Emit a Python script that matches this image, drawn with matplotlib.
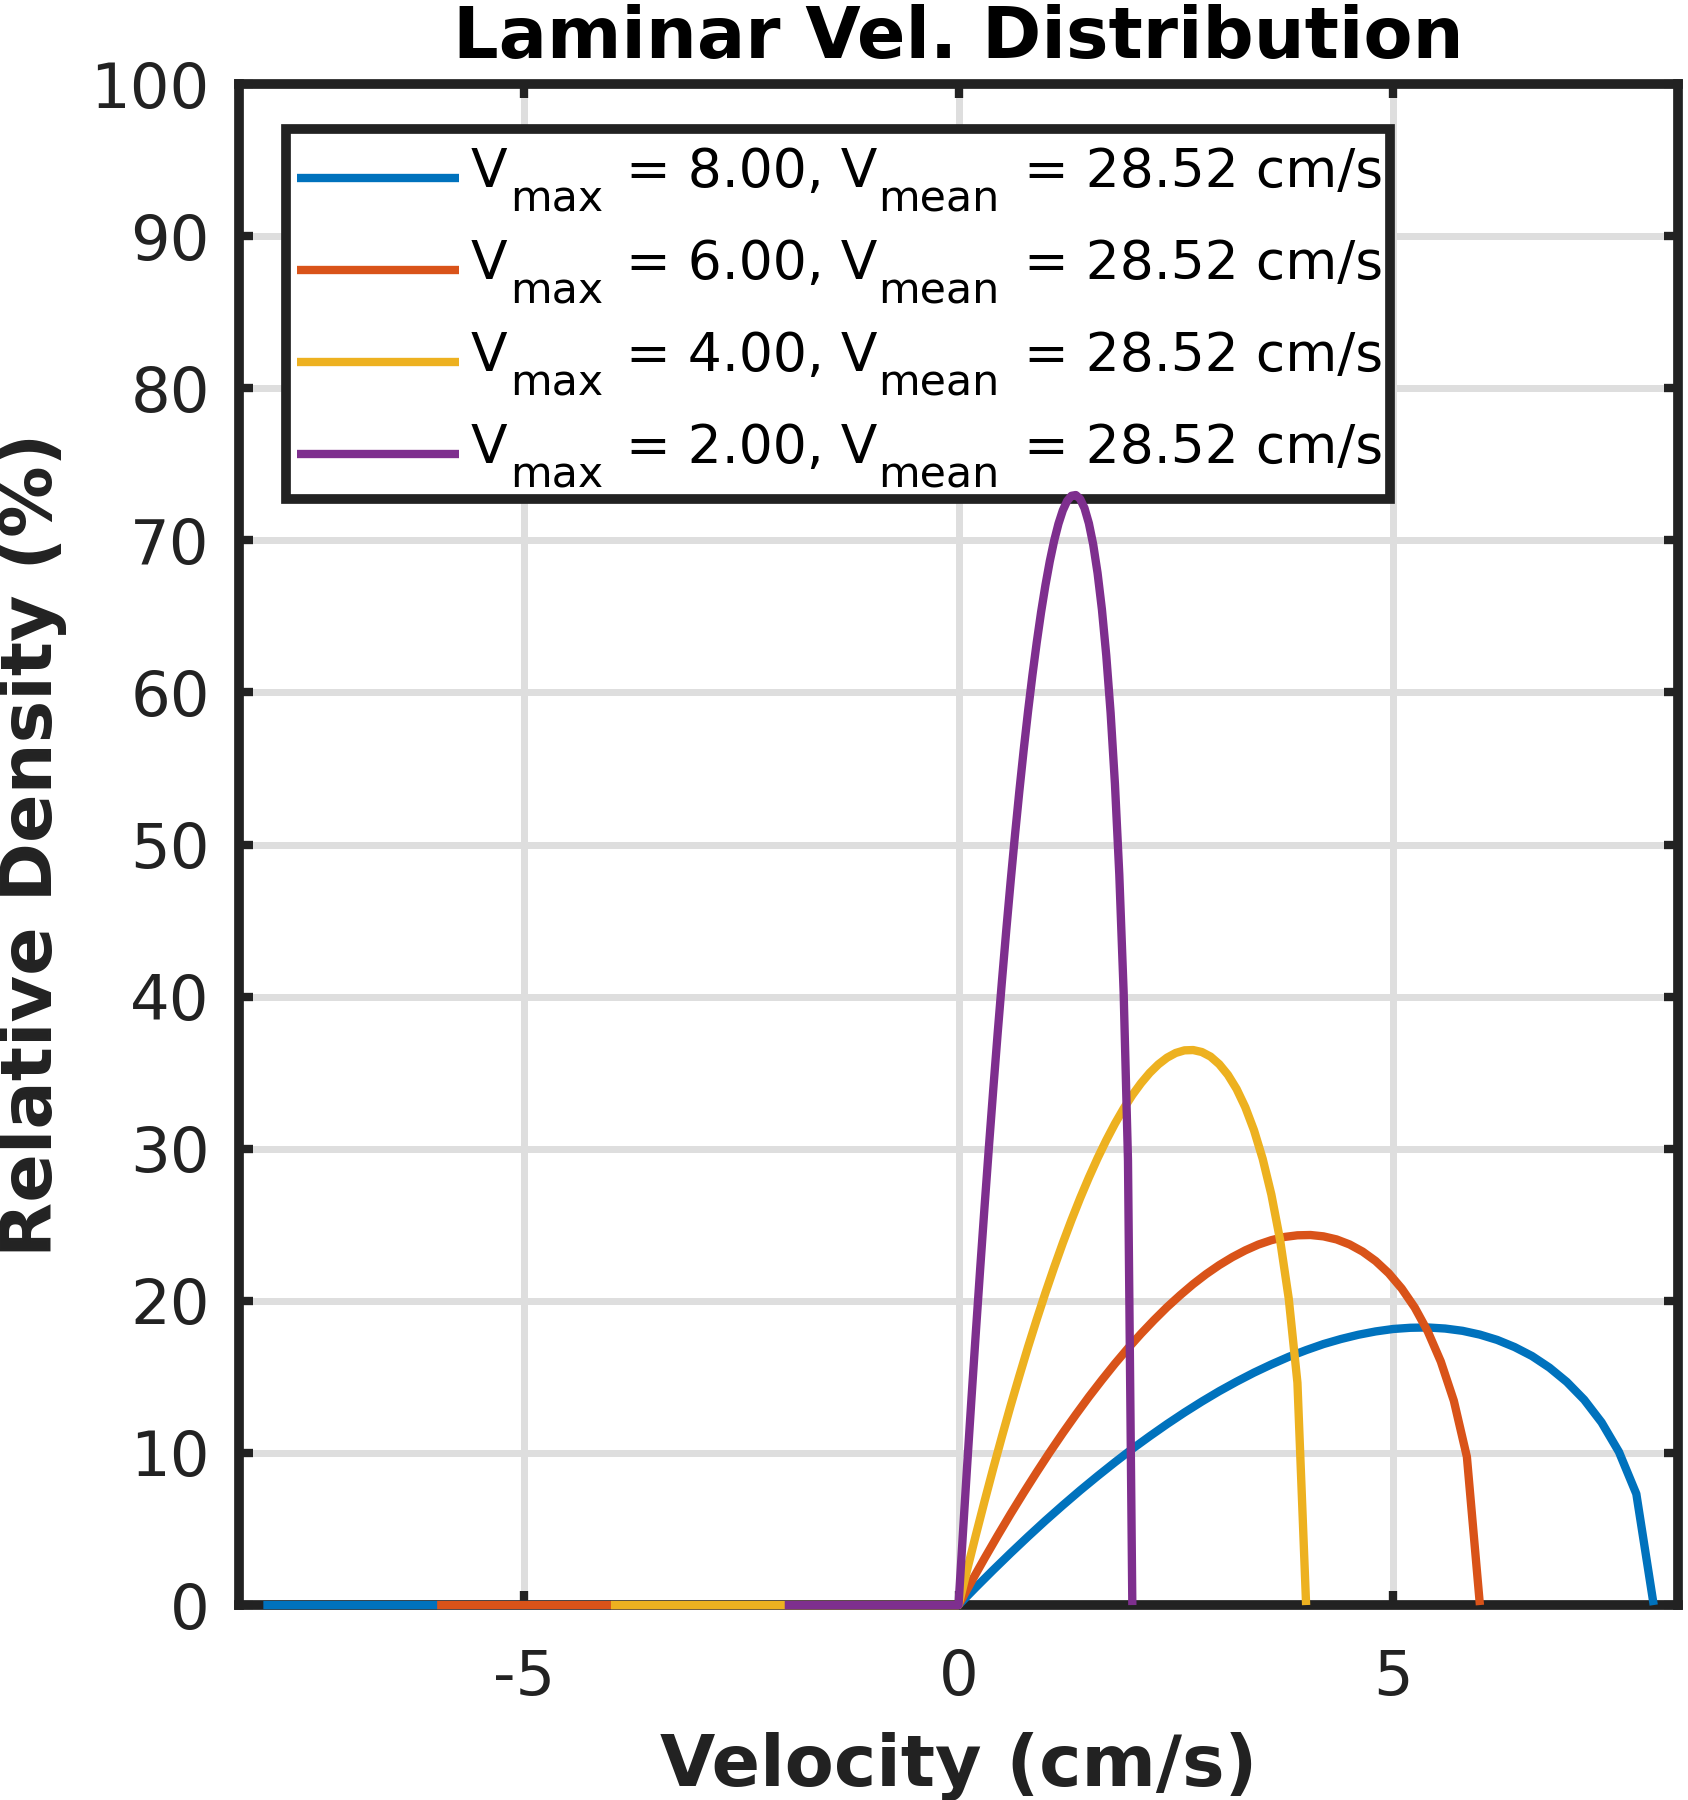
import matplotlib
matplotlib.use("Agg")
import matplotlib.pyplot as plt
from matplotlib.lines import Line2D
from matplotlib.patches import Rectangle

plt.rcParams['font.family'] = ['DejaVu Sans']
plt.rcParams['axes.unicode_minus'] = False

# ---- data ----
vmax_values = [8.00, 6.00, 4.00, 2.00]
vmean_values = [28.52, 28.52, 28.52, 28.52]

blue_v = [-8.0, 0.0, 0.2, 0.4, 0.6, 0.8, 1.0, 1.2, 1.4, 1.6, 1.8, 2.0, 2.2, 2.4, 2.6, 2.8,
          3.0, 3.2, 3.4, 3.6, 3.8, 4.0, 4.2, 4.4, 4.6, 4.8, 5.0, 5.2, 5.4, 5.6, 5.8,
          6.0, 6.2, 6.4, 6.6, 6.8, 7.0, 7.2, 7.4, 7.6, 7.8, 8.0]
blue_y = [0.0, 0.0, 1.17, 2.31, 3.42, 4.50, 5.55, 6.56, 7.54, 8.48, 9.39, 10.27, 11.10,
          11.90, 12.66, 13.38, 14.06, 14.69, 15.28, 15.82, 16.32, 16.76, 17.16, 17.49,
          17.77, 17.99, 18.15, 18.23, 18.25, 18.18, 18.03, 17.78, 17.43, 16.96, 16.37,
          15.61, 14.67, 13.50, 12.01, 10.07, 7.31, 0.0]

orange_v = [-6.0, 0.0, 0.15, 0.3, 0.45, 0.6, 0.75, 0.9, 1.05, 1.2, 1.35, 1.5, 1.65, 1.8,
            1.95, 2.1, 2.25, 2.4, 2.55, 2.7, 2.85, 3.0, 3.15, 3.3, 3.45, 3.6, 3.75, 3.9,
            4.05, 4.2, 4.35, 4.5, 4.65, 4.8, 4.95, 5.1, 5.25, 5.4, 5.55, 5.7, 5.85, 6.0]
orange_y = [0.0, 0.0, 1.56, 3.08, 4.56, 6.00, 7.39, 8.74, 10.05, 11.31, 12.52, 13.69,
            14.80, 15.87, 16.88, 17.84, 18.74, 19.59, 20.37, 21.10, 21.76, 22.35, 22.87,
            23.32, 23.70, 23.99, 24.20, 24.31, 24.33, 24.24, 24.04, 23.71, 23.24, 22.62,
            21.82, 20.81, 19.56, 17.99, 16.01, 13.43, 9.75, 0.0]

yellow_v = [-4.0, 0.0, 0.1, 0.2, 0.3, 0.4, 0.5, 0.6, 0.7, 0.8, 0.9, 1.0, 1.1, 1.2, 1.3,
            1.4, 1.5, 1.6, 1.7, 1.8, 1.9, 2.0, 2.1, 2.2, 2.3, 2.4, 2.5, 2.6, 2.7, 2.8,
            2.9, 3.0, 3.1, 3.2, 3.3, 3.4, 3.5, 3.6, 3.7, 3.8, 3.9, 4.0]
yellow_y = [0.0, 0.0, 2.34, 4.62, 6.84, 9.00, 11.09, 13.12, 15.07, 16.97, 18.78, 20.53,
            22.20, 23.80, 25.32, 26.76, 28.11, 29.38, 30.56, 31.65, 32.64, 33.53, 34.31,
            34.99, 35.55, 35.99, 36.30, 36.47, 36.49, 36.36, 36.06, 35.56, 34.86, 33.93,
            32.73, 31.22, 29.34, 26.99, 24.02, 20.15, 14.62, 0.0]

purple_v = [-2.0, 0.0, 0.05, 0.1, 0.15, 0.2, 0.25, 0.3, 0.35, 0.4, 0.45, 0.5, 0.55, 0.6,
            0.65, 0.7, 0.75, 0.8, 0.85, 0.9, 0.95, 1.0, 1.05, 1.1, 1.15, 1.2, 1.25, 1.3,
            1.35, 1.4, 1.45, 1.5, 1.55, 1.6, 1.65, 1.7, 1.75, 1.8, 1.85, 1.9, 1.95, 2.0]
purple_y = [0.0, 0.0, 4.68, 9.24, 13.68, 17.99, 22.18, 26.23, 30.15, 33.93, 37.57, 41.06,
            44.41, 47.60, 50.64, 53.52, 56.23, 58.76, 61.12, 63.29, 65.28, 67.05, 68.62,
            69.97, 71.09, 71.97, 72.59, 72.93, 72.98, 72.72, 72.11, 71.12, 69.72, 67.85,
            65.46, 62.44, 58.67, 53.98, 48.04, 40.29, 29.24, 0.0]

series_v = [blue_v, orange_v, yellow_v, purple_v]
series_y = [blue_y, orange_y, yellow_y, purple_y]
colors = ['#0072BD', '#D95319', '#EDB120', '#7E2F8E']

x_ticks = [-5, 0, 5]
y_ticks = [0, 10, 20, 30, 40, 50, 60, 70, 80, 90, 100]

# ---- figure ----
W, H = 1688, 1800
fig = plt.figure(figsize=(W / 100, H / 100), dpi=100)
ax = fig.add_axes([0.1416, 0.1083, 0.8525, 0.845])

LW = 6
for v, y, c, vm, vmean in zip(series_v, series_y, colors, vmax_values, vmean_values):
    ax.plot(v, y, color=c, linewidth=LW, zorder=3, clip_on=False,
            solid_joinstyle='round', solid_capstyle='butt',
            label='V_max = %.2f, V_mean = %.2f cm/s' % (vm, vmean))

ax.set_xlim(-8.28, 8.28)
ax.set_ylim(0, 100)
ax.set_xticks(x_ticks)
ax.set_xticklabels([str(t) for t in x_ticks])
ax.set_yticks(y_ticks)

ax.set_axisbelow(True)
ax.grid(True, color='#dedede', linewidth=5)

INK = '#222222'
for s in ax.spines.values():
    s.set_linewidth(7)
    s.set_color(INK)

ax.tick_params(direction='in', length=10, width=6, color=INK,
               top=True, right=True, labelsize=45, labelcolor=INK)
ax.tick_params(axis='x', pad=31)
ax.tick_params(axis='y', pad=21)

ax.set_title('Laminar Vel. Distribution', fontsize=51.5, fontweight='bold', pad=19,
             color='black')
ax.set_xlabel('Velocity (cm/s)', fontsize=51.5, fontweight='bold', color=INK)
ax.set_ylabel('Relative Density (%)', fontsize=51.5, fontweight='bold', color=INK)
ax.xaxis.set_label_coords(0.5, -0.0835)
ax.yaxis.set_label_coords(-0.1195, 0.5)

# ---- legend (MATLAB style, TeX subscripts) ----
def fx(px):
    return px / W

def fy(py):
    return 1 - py / H

tf = fig.transFigure
frame = Rectangle((fx(286), fy(499)), fx(1390) - fx(286), fy(129) - fy(499),
                  transform=tf, facecolor='white', edgecolor=INK, linewidth=7,
                  zorder=2.8, clip_on=False)
ax.add_patch(frame)

row_centers = [178, 270, 362, 454]
MAIN_FS = 38.5
SUB_FS = 30.8
for yc, c, vm, vmean in zip(row_centers, colors, vmax_values, vmean_values):
    ax.add_line(Line2D([fx(297), fx(459)], [fy(yc), fy(yc)], transform=tf, color=c,
                       linewidth=LW, zorder=4, clip_on=False, solid_capstyle='butt'))
    base = fy(yc + 9)
    sub = fy(yc + 34)
    kw = dict(transform=tf, ha='left', va='baseline', color='black', zorder=4,
              clip_on=False)
    ax.text(fx(471), base, 'V', fontsize=MAIN_FS, **kw)
    ax.text(fx(510), sub, 'max', fontsize=SUB_FS, **kw)
    ax.text(fx(626), base, '= %.2f, V' % vm, fontsize=MAIN_FS, **kw)
    ax.text(fx(878), sub, 'mean', fontsize=SUB_FS, **kw)
    ax.text(fx(1024), base, '= %.2f cm/s' % vmean, fontsize=MAIN_FS, **kw)

fig.savefig('out.png', dpi=100)
